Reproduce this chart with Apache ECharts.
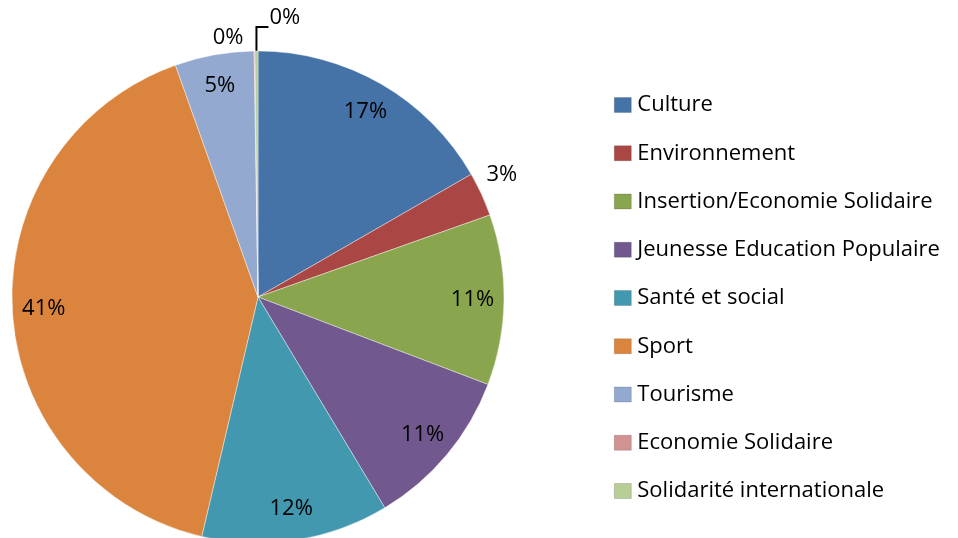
<!DOCTYPE html>
<html>
<head>
<meta charset="utf-8">
<script src="https://cdn.jsdelivr.net/npm/echarts@6/dist/echarts.min.js"></script>
<style>
  html, body { margin: 0; padding: 0; background: #fff; }
  #chart { width: 958px; height: 538px; }
</style>
</head>
<body>
<div id="chart"></div>
<script>
// categories and shares (percent)
const categories = ['Culture', 'Environnement', 'Insertion/Economie Solidaire', 'Jeunesse Education Populaire',
  'Santé et social', 'Sport', 'Tourisme', 'Economie Solidaire', 'Solidarité internationale']
const shares = [16.7, 2.9, 11.2, 10.6, 12.3, 40.9, 5.2, 0.05, 0.2]
const colors = ['#4572A7', '#AA4643', '#89A54E', '#71588F', '#4198AF', '#DB843D', '#93A9CF', '#D19392', '#B9CD96']

const FONT = '"Open Sans", Lato, sans-serif'
const R = 246
const center = [258, 297]

const chart = echarts.init(document.getElementById('chart'))

const data = categories.map((name, i) => ({ name: name, value: shares[i] }))

// label placement for the small slices that sit outside the pie
function labelLayout(params) {
  const i = params.dataIndex
  const p = params.labelLinePoints && params.labelLinePoints[0]
  if (!p) return {}
  if (i === 1) {
    return { x: p[0] + 5, y: p[1] - 19, align: 'left', verticalAlign: 'middle', labelLinePoints: [p, p, p] }
  }
  if (i === 7) {
    return { x: p[0] - 11, y: p[1] - 13, align: 'right', verticalAlign: 'middle', labelLinePoints: [p, p, p] }
  }
  if (i === 8) {
    return {
      x: p[0] + 13, y: p[1] - 33, align: 'left', verticalAlign: 'middle',
      labelLinePoints: [p, [p[0], p[1] - 24], [p[0] + 12, p[1] - 24]]
    }
  }
  return {}
}

const option = {
  animation: false,
  color: colors,
  legend: {
    orient: 'vertical',
    left: 614,
    top: 94,
    padding: 0,
    itemWidth: 17,
    itemHeight: 15,
    itemGap: 26.25,
    icon: 'rect',
    data: categories,
    selectedMode: false,
    itemStyle: { borderWidth: 0.6, borderColor: 'rgba(0,0,0,0.25)' },
    textStyle: { fontFamily: FONT, fontSize: 22, lineHeight: 22, color: '#000', padding: [0, 0, 0, 1] }
  },
  series: [
    {
      type: 'pie',
      center: center,
      radius: R,
      startAngle: 90,
      clockwise: true,
      avoidLabelOverlap: false,
      silent: true,
      label: { show: false },
      labelLine: { show: false },
      itemStyle: { borderColor: 'rgba(255,255,255,0.5)', borderWidth: 0.8 },
      data: data
    },
    {
      // transparent ring only used to place the percentage labels near the rim
      type: 'pie',
      center: center,
      radius: [R * 0.72, R],
      startAngle: 90,
      clockwise: true,
      avoidLabelOverlap: false,
      silent: true,
      itemStyle: { color: 'rgba(0,0,0,0)', borderWidth: 0 },
      label: {
        show: true,
        position: 'inside',
        fontFamily: FONT,
        fontSize: 22,
        color: '#000',
        formatter: p => Math.round(p.value) + '%'
      },
      labelLine: { show: false },
      labelLayout: labelLayout,
      data: data.map((d, i) => i === 1 || i >= 7
        ? Object.assign({}, d, {
            label: { position: 'outside' },
            labelLine: { show: i === 8, length: 10, length2: 10, lineStyle: { color: '#000', width: 2 } }
          })
        : d)
    }
  ]
}

chart.setOption(option)
</script>
</body>
</html>
